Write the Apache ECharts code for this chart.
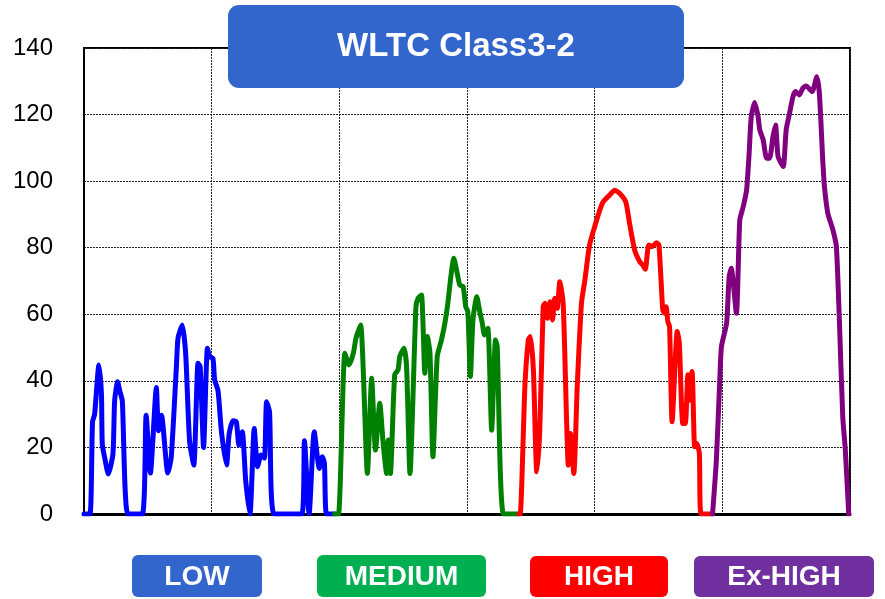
<!DOCTYPE html>
<html>
<head>
<meta charset="utf-8">
<script src="https://cdn.jsdelivr.net/npm/echarts@6/dist/echarts.min.js"></script>
<style>
html,body{margin:0;padding:0;background:#fff;}
#chart{width:885px;height:599px;}
</style>
</head>
<body>
<div id="chart"></div>
<script>
// Time (s) / speed (km/h) pairs
const lowPhase = [[0,0],[14,0],[20,27.7],[25,30],[35,44.8],[41,36],[43,21],[50,16],[57,12],[68,18],
  [72,34],[79,39.7],[84,37],[90,34],[103,0],[137,0],[146,29.7],[156,12.3],[170,38],[175,25],
  [182,29.7],[197,12.3],[205,17],[217,44],[221,52.9],[231,56.8],[239,48],[248,22],[258,14.7],[268,45.3],
  [273,44.3],[281,20],[290,49.8],[295,47.3],[303,46.8],[307,40.3],[315,37],[323,24.7],[335,14.7],[341,24],
  [350,28],[358,27.7],[364,20.7],[372,24.7],[380,10],[390,0],[400,25.7],[408,14.2],[416,17.7],[424,16.8],
  [429,33.7],[436,30.7],[447,0],[512,0],[518,22],[529,0],[541,24.7],[553,13.7],[560,17.2],[565,15.2],
  [570,0],[589,0]];
const mediumPhase = [[589,0],[598,0],[613,48.3],[623,44.8],[633,48.3],[639,52.8],[650,56.8],[666,12.2],[676,40.8],[685,19.2],
  [695,33.3],[703,21.2],[711,12.2],[715,22.2],[720,12.2],[730,41.8],[738,43.3],[742,47.3],[752,49.8],[758,44.3],
  [766,12.2],[780,62.3],[785,64.8],[793,65.8],[801,42.3],[807,53.3],[813,48.3],[820,17.2],[830,47.3],[840,52.3],
  [848,57.3],[855,63.3],[863,72.3],[869,76.8],[877,72.3],[883,68.8],[891,68.3],[897,62.3],[902,60.8],[908,41.3],
  [914,58.3],[923,65.3],[930,60.8],[936,57.3],[941,53.8],[949,55.8],[958,25.2],[967,52.3],[971,50.3],[986,0],
  [1022,0]];
const highPhase = [[1022,0],[1025,0],[1036,38.2],[1044,52.3],[1049,53.3],[1056,43.3],[1064,12.7],[1071,25.2],[1079,62.3],[1083,63.3],
  [1089,58.8],[1095,63.8],[1101,58.3],[1106,64.8],[1112,61.8],[1118,69.8],[1126,63.3],[1134,28.2],[1138,14.7],[1143,24.2],
  [1151,12.2],[1159,38.2],[1169,63.3],[1177,70.3],[1188,80.8],[1200,86.3],[1212,91.3],[1220,93.8],[1235,95.8],[1247,97.3],
  [1259,96.3],[1273,93.8],[1282,87.3],[1294,79.3],[1306,75.8],[1313,74.8],[1319,73.5],[1327,80.8],[1335,80.3],[1345,81.5],
  [1351,80.8],[1360,61.3],[1364,60.3],[1368,62.3],[1372,57.8],[1376,56.3],[1382,27.7],[1394,54.8],[1399,51.3],[1407,27.2],
  [1413,27.2],[1419,41.8],[1423,34.2],[1429,42.8],[1435,20.2],[1440,21.2],[1446,18.2],[1450,0],[1477,0]];
const exHighPhase = [[1477,0],[1486,16.2],[1494,40.3],[1498,50.3],[1510,57.3],[1516,71.3],[1521,73.8],[1533,60.3],[1541,88.3],[1549,92.3],
  [1557,97.3],[1563,108.4],[1568,119.4],[1576,123.6],[1584,119.4],[1588,115.4],[1596,112.4],[1604,106.9],[1611,106.9],[1619,113.4],
  [1625,116.9],[1631,107.4],[1643,104.4],[1650,115.4],[1658,120.4],[1666,125.4],[1672,126.9],[1681,125.9],[1689,127.9],[1697,128.6],
  [1711,126.9],[1722,131.4],[1728,126.4],[1736,106.3],[1740,98.3],[1748,90.3],[1760,85.3],[1768,80.3],[1775,58.3],[1783,29.2],
  [1789,19.2],[1797,0]];

const phaseNames = ['LOW','MEDIUM','HIGH','Ex-HIGH'];
const lineColors = ['#0000FF','#008000','#FF0000','#800080'];
const badgeColors = ['#3366CC','#00B050','#FF0000','#7030A0'];
const titleText = 'WLTC Class3-2';
const yTicks = {min:0, max:140, step:20};

const chart = echarts.init(document.getElementById('chart'), null, {renderer:'canvas'});
const FONT = '"Liberation Sans", Arial, sans-serif';
const phases = [lowPhase, mediumPhase, highPhase, exHighPhase];

const badgeBoxes = [[132,555,130,42],[317,555,169,42],[530,556,138,41],[694,556,180,41]];
const graphics = [
  {type:'rect', shape:{x:228,y:5,width:456,height:83,r:11}, style:{fill:'#3366CC'}, z:100},
  {type:'text', x:456, y:47, style:{text:titleText, fill:'#fff', font:'bold 33px '+FONT, align:'center', verticalAlign:'middle'}, z:101}
];
phaseNames.forEach((n,i)=>{
  const b = badgeBoxes[i];
  graphics.push({type:'rect', shape:{x:b[0],y:b[1],width:b[2],height:b[3],r:6}, style:{fill:badgeColors[i]}, z:100});
  graphics.push({type:'text', x:b[0]+b[2]/2, y:b[1]+b[3]/2+1, style:{text:n, fill:'#fff', font:'bold 28px '+FONT, align:'center', verticalAlign:'middle'}, z:101});
});

chart.setOption({
  animation:false,
  grid:{left:84, right:35, top:48, bottom:85, show:true, borderColor:'#000', borderWidth:2, backgroundColor:'transparent'},
  xAxis:{type:'value', min:0, max:1800, interval:300,
    axisLabel:{show:false}, axisTick:{show:false},
    axisLine:{show:true, lineStyle:{color:'#000', width:3}},
    splitLine:{show:true, lineStyle:{color:'#222', type:[2,1], width:1}}},
  yAxis:{type:'value', min:yTicks.min, max:yTicks.max, interval:yTicks.step,
    axisLabel:{color:'#000', fontSize:24, fontFamily:FONT, margin:31},
    axisTick:{show:false},
    axisLine:{show:true, lineStyle:{color:'#000', width:2}},
    splitLine:{show:true, lineStyle:{color:'#222', type:[2,1], width:1}}},
  series: phases.map((d,i)=>({
    name:phaseNames[i], type:'line', data:d, showSymbol:false, smooth:0.2,
    lineStyle:{color:lineColors[i], width:5, join:'round', cap:'round'},
    z:2+i
  })),
  graphic:graphics
});
</script>
</body>
</html>
